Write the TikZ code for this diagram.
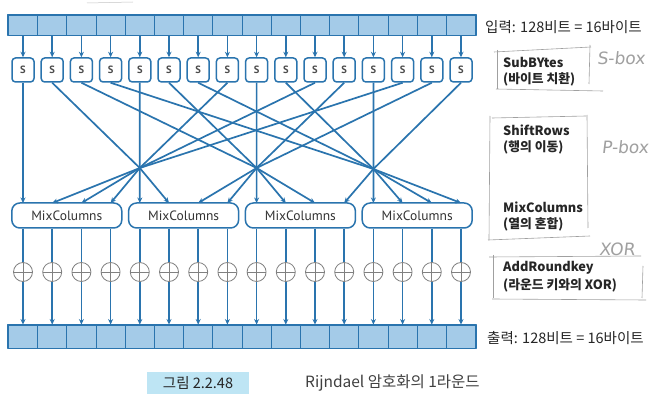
\documentclass[tikz,border=0pt]{standalone}
\usepackage{fontspec}
\setmainfont{PT Sans}
\newfontfamily\kr{Noto Sans CJK KR}
\newfontfamily\myr{PT Sans}
\newfontfamily\hand{DejaVu Sans}[FakeSlant=0.12]
\usetikzlibrary{arrows.meta,calc}
\definecolor{bl}{HTML}{2A74AE}
\definecolor{barfill}{HTML}{A4CBE8}
\definecolor{capfill}{HTML}{BEE5F4}
\definecolor{pencil}{HTML}{A0A0A0}
\begin{document}
\begin{tikzpicture}[x=1pt,y=-1pt,line join=round,
 cell/.style={draw=bl,fill=barfill,line width=0.9pt,minimum width=29.2pt,minimum height=20pt,inner sep=0pt},
 sbox/.style={draw=bl,fill=white,line width=1.5pt,rounded corners=3.5pt,minimum width=22pt,minimum height=24pt,inner sep=0pt,font=\myr\bfseries\fontsize{10.5}{10}\selectfont,text=black!70},
 mixbox/.style={draw=bl,fill=white,line width=1.5pt,rounded corners=8pt,minimum width=110pt,minimum height=25pt,inner sep=0pt,font=\myr\fontsize{13.5}{14}\selectfont,text=black!80},
 xorc/.style={circle,draw=gray,line width=0.8pt,minimum size=19pt,inner sep=0pt,path picture={\draw[gray,line width=0.8pt] (path picture bounding box.north) -- (path picture bounding box.south) (path picture bounding box.west) -- (path picture bounding box.east);}},
 wire/.style={draw=bl,line width=1.7pt},
 arr/.style={wire,-{Stealth[length=5.5pt,width=5pt]}},
 lbl/.style={anchor=west,inner sep=0pt,font=\kr\bfseries\fontsize{12.8}{13}\selectfont,text=black!85},
 io/.style={anchor=west,inner sep=0pt,font=\kr\fontsize{14.5}{15}\selectfont,text=black!85},
 handtxt/.style={font=\hand\fontsize{17}{18}\selectfont,text=pencil,inner sep=0pt},
 pen/.style={draw=pencil,line width=0.6pt}
]
\useasboundingbox (0,0) rectangle (657,401);
\fill[white] (0,0) rectangle (657,401);

% rows of cells, S-boxes, xor circles
\foreach \i in {0,...,15} {
  \node[cell] (a\i) at ({23+29.2*\i},25) {};
  \node[sbox] (s\i) at ({23+29.2*\i},70) {S};
  \node[xorc] (x\i) at ({23+29.2*\i},272) {};
  \node[cell,minimum height=23pt] (b\i) at ({23+29.2*\i},336.5) {};
  \coordinate (t\i) at ({23+29.2*\i},203);
  \draw[arr] (a\i.south) -- (s\i.north);
  \draw[arr] (x\i.south) -- (b\i.north);
}
\draw[bl,line width=1.2pt] (a0.north west) rectangle (a15.south east);
\draw[bl,line width=1.2pt] (b0.north west) rectangle (b15.south east);

% MixColumns boxes
\foreach \k in {0,...,3} {
  \node[mixbox] (m\k) at ({66.8+116.8*\k},215.5) {MixColumns};
  \foreach \j in {0,...,3} {
    \pgfmathtruncatemacro\i{4*\k+\j}
    \draw[wire] (x\i.north |- m\k.south) -- (x\i.north);
  }
}

% ShiftRows wiring
\coordinate (p1) at (139.8,168);
\coordinate (p2) at (256.6,168);
\coordinate (p3) at (373.4,169);
\draw[arr] (s0.south) -- (t0);
\foreach \src/\p/\dst in {13/p1/1,10/p1/2,7/p1/3,4/p1/4,1/p1/5,
                          14/p2/6,11/p2/7,8/p2/8,5/p2/9,2/p2/10,
                          15/p3/11,12/p3/12,9/p3/13,6/p3/14,3/p3/15}
  \draw[arr] (s\src.south) -- (\p) -- (t\dst);

% labels
\node[io] (lin) at (485,27) {입력: 128비트 = 16바이트};
\node[io] (lout) at (487,338) {출력: 128비트 = 16바이트};
\node[lbl] (l1) at (503,62) {SubBYtes};
\node[lbl] (l2) at (503,79) {(바이트 치환)};
\node[lbl] (l3) at (503,130) {ShiftRows};
\node[lbl] (l4) at (503,147) {(행의 이동)};
\node[lbl] (l5) at (503,207) {MixColumns};
\node[lbl] (l6) at (503,224) {(열의 혼합)};
\node[lbl] (l7) at (503,268) {AddRoundkey};
\node[lbl] (l8) at (503,285) {(라운드 키와의 XOR)};

% pencil annotations
\draw[pen] (494,52) -- (591,47);
\draw[pen] (497,50) -- (497,89);
\draw[pen] (590,45) -- (589,84);
\draw[pen] (496,89) -- (603,91);
\node[handtxt] (h1) at (621,58) {S-box};

\draw[pen] (492,118) -- (586,116);
\draw[pen] (490,116) -- (489,240);
\draw[pen] (587,115) -- (588,228);
\draw[pen] (488,240) -- (590,236);
\node[handtxt] (h2) at (625,147) {P-box};

\draw[pen] (489,257) -- (641,256);
\draw[pen] (493,255) -- (493,298);
\draw[pen] (643,266) -- (642,298);
\draw[pen] (492,299) -- (646,300);
\node[handtxt] (h3) at (617,249) {XOR};

\draw[pencil!60,line width=0.5pt] (87,3) -- (133,2);

% caption
\node[fill=capfill,minimum width=102pt,minimum height=22pt,inner sep=0pt,font=\kr\fontsize{14.5}{15}\selectfont,text=black!85] (cap) at (198,383) {그림 2.2.48};
\node[anchor=west,inner sep=0pt,font=\kr\fontsize{15.5}{16}\selectfont,text=black!75] (ttl) at (305,383) {Rijndael 암호화의 1라운드};
\end{tikzpicture}
\end{document}
